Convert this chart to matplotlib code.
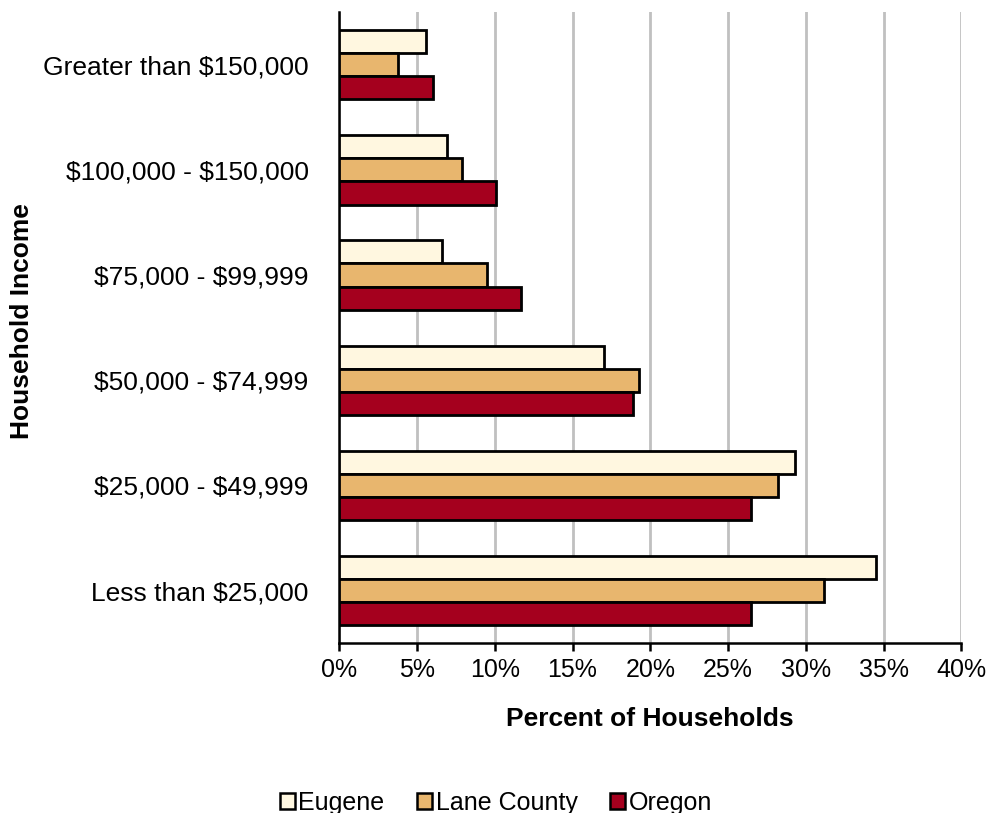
import matplotlib.pyplot as plt
import numpy as np
from matplotlib.patches import Patch

plt.rcParams['font.family'] = ['Liberation Sans', 'DejaVu Sans']
plt.rcParams['text.parse_math'] = False

categories = ['Less than $25,000', '$25,000 - $49,999', '$50,000 - $74,999',
              '$75,000 - $99,999', '$100,000 - $150,000', 'Greater than $150,000']
eugene = [34.5, 29.3, 17.0, 6.6, 6.9, 5.6]
lane = [31.2, 28.2, 19.3, 9.5, 7.9, 3.8]
oregon = [26.5, 26.5, 18.9, 11.7, 10.1, 6.0]
series = ['Eugene', 'Lane County', 'Oregon']
colors = ['#FFF7E0', '#E8B66E', '#A5001E']

fig = plt.figure(figsize=(9.92, 8.13), dpi=100)
ax = fig.add_axes([0.342, 0.209, 0.627, 0.776])

y = np.arange(len(categories))
h = 0.22
for i, (vals, c) in enumerate(zip([eugene, lane, oregon], colors)):
    ax.barh(y + (1 - i) * h, vals, height=h, color=c, edgecolor='black', linewidth=2, zorder=3)

ax.set_xlim(0, 40)
ax.set_ylim(-0.5, len(categories) - 0.5)
ax.set_xticks(range(0, 41, 5))
ax.set_xticklabels([f'{v}%' for v in range(0, 41, 5)], fontsize=18)
ax.set_yticks(y)
ax.set_yticklabels(categories, fontsize=19)
ax.tick_params(axis='y', length=0, pad=22)
ax.tick_params(axis='x', length=6, width=1.8, pad=5, direction='out')
ax.grid(axis='x', color='#C0C0C0', linewidth=2, zorder=0)
for s in ['top', 'right']:
    ax.spines[s].set_visible(False)
for s in ['left', 'bottom']:
    ax.spines[s].set_linewidth(1.8)

ax.set_xlabel('Percent of Households', fontsize=19, fontweight='bold', labelpad=18)
fig.text(0.022, 0.605, 'Household Income', rotation=90, fontsize=19, fontweight='bold',
         ha='center', va='center')

handles = [Patch(facecolor=c, edgecolor='black', linewidth=1.8) for c in colors]
fig.legend(handles, series, loc='lower center', bbox_to_anchor=(0.5, -0.03), ncol=3,
           frameon=False, fontsize=18, handlelength=0.6, handleheight=0.6,
           handletextpad=0.15, columnspacing=1.3)

fig.savefig('out.png', dpi=100)
